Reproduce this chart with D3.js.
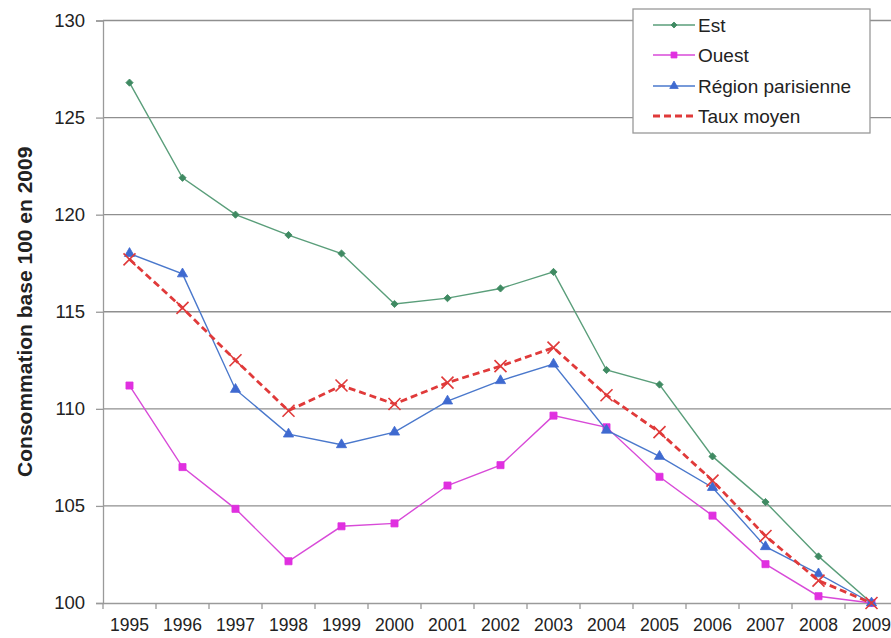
<!DOCTYPE html>
<html><head><meta charset="utf-8">
<script src="https://cdn.jsdelivr.net/npm/d3@7/dist/d3.min.js"></script>
<style>body{margin:0;background:#fff}svg{display:block}text{font-family:"Liberation Sans",Arial,sans-serif;fill:#222}</style>
</head><body>
<svg id="c" width="891" height="638"></svg>
<script>
const years = ["1995","1996","1997","1998","1999","2000","2001","2002","2003","2004","2005","2006","2007","2008","2009"];
const est = [126.8,121.9,120.0,118.95,118.0,115.4,115.7,116.2,117.05,112.0,111.25,107.55,105.2,102.4,100];
const ouest = [111.2,107.0,104.85,102.15,103.95,104.1,106.05,107.1,109.65,109.05,106.5,104.5,102.0,100.35,100];
const region = [118.0,116.95,111.0,108.7,108.15,108.8,110.4,111.45,112.3,108.9,107.55,105.95,102.9,101.5,100];
const taux = [117.7,115.2,112.5,109.9,111.2,110.25,111.35,112.2,113.15,110.7,108.8,106.3,103.45,101.15,100];
const yTicks = [100,105,110,115,120,125,130];
const seriesNames = ["Est","Ouest","Région parisienne","Taux moyen"];
const yTitle = "Consommation base 100 en 2009";

const svg = d3.select("#c");
const L = 103, R = 898, T = 20.5, B = 603;
const x = d3.scaleBand().domain(years).range([L, R]);
const y = d3.scaleLinear().domain([100,130]).range([B, T]);
const cx = d => x(d) + x.bandwidth()/2;

// gridlines
svg.append("g").selectAll("line").data(yTicks.filter(v=>v>100)).join("line")
  .attr("x1", L).attr("x2", R).attr("y1", d=>y(d)).attr("y2", d=>y(d))
  .attr("stroke", "#8f8f8f").attr("stroke-width", 1.3);

// y axis
const ya = svg.append("g").attr("transform", `translate(${L},0)`)
  .call(d3.axisLeft(y).tickValues(yTicks).tickSize(7).tickPadding(11));
ya.select(".domain").attr("stroke", "#9a9a9a").attr("stroke-width", 1.3);
ya.selectAll(".tick line").attr("stroke", "#9a9a9a").attr("stroke-width", 1.3);
ya.selectAll(".tick text").style("font-size", "18.5px").attr("fill", "#222");

// x axis
const xa = svg.append("g").attr("transform", `translate(0,${B})`)
  .call(d3.axisBottom(x).tickSize(0).tickPadding(16));
xa.select(".domain").attr("stroke", "#9a9a9a").attr("stroke-width", 1.3);
xa.selectAll(".tick text").style("font-size", "17.5px").attr("fill", "#222");
svg.append("g").selectAll("line").data(years.concat(["end"])).join("line")
  .attr("x1", (d,i)=>L + i*x.step()).attr("x2", (d,i)=>L + i*x.step())
  .attr("y1", B).attr("y2", B+6).attr("stroke", "#9a9a9a").attr("stroke-width", 1.3);

// y title
svg.append("text").attr("transform", `translate(32,${(T+B)/2}) rotate(-90)`)
  .attr("text-anchor", "middle").style("font-size", "21px").style("font-weight", "bold")
  .text(yTitle);

const line = d3.line().x((d,i)=>cx(years[i])).y(d=>y(d));
const S = [
  {name: seriesNames[0], data: est, color: "#5a9e7a", mcolor: "#3f8a62", w: 1.4, dash: null, sym: d3.symbolSquare, rot: 45, size: 26},
  {name: seriesNames[1], data: ouest, color: "#d84ad8", mcolor: "#e030e0", w: 1.4, dash: null, sym: d3.symbolSquare, rot: 0, size: 50},
  {name: seriesNames[2], data: region, color: "#4a78cc", mcolor: "#3f6ad0", w: 1.4, dash: null, sym: d3.symbolTriangle, rot: 0, size: 45},
  {name: seriesNames[3], data: taux, color: "#e03a3a", mcolor: "#e03a3a", w: 2.8, dash: "7,4", sym: null, rot: 0, size: 0}
];
function drawMarker(g, s, px, py, k) {
  k = k || 1;
  if (s.sym) {
    g.append("path").attr("d", d3.symbol().type(s.sym).size(s.size*k)()).attr("transform", `translate(${px},${py}) rotate(${s.rot})`)
      .attr("fill", s.mcolor).attr("stroke", s.mcolor).attr("stroke-width", 0.8);
  } else {
    const r = 6;
    g.append("path").attr("d", `M${px-r},${py-r}L${px+r},${py+r}M${px-r},${py+r}L${px+r},${py-r}`)
      .attr("stroke", s.mcolor).attr("stroke-width", 1.6).attr("fill", "none");
  }
}
S.forEach(s => {
  const g = svg.append("g");
  g.append("path").datum(s.data).attr("d", line).attr("fill", "none")
    .attr("stroke", s.color).attr("stroke-width", s.w).attr("stroke-dasharray", s.dash);
  s.data.forEach((v,i) => drawMarker(g, s, cx(years[i]), y(v)));
});

// legend
const lg = svg.append("g");
lg.append("rect").attr("x", 633).attr("y", 9).attr("width", 237).attr("height", 124)
  .attr("fill", "#fff").attr("stroke", "#999").attr("stroke-width", 1.3);
const ly = [25, 55, 86, 116];
S.forEach((s,i) => {
  lg.append("line").attr("x1", 653).attr("x2", 695).attr("y1", ly[i]).attr("y2", ly[i])
    .attr("stroke", s.color).attr("stroke-width", s.w).attr("stroke-dasharray", s.dash);
  if (s.sym) drawMarker(lg, s, 674, ly[i], 0.7);
  lg.append("text").attr("x", 698).attr("y", ly[i]).attr("dy", "0.35em")
    .style("font-size", "19px").text(s.name);
});
</script>
</body></html>
